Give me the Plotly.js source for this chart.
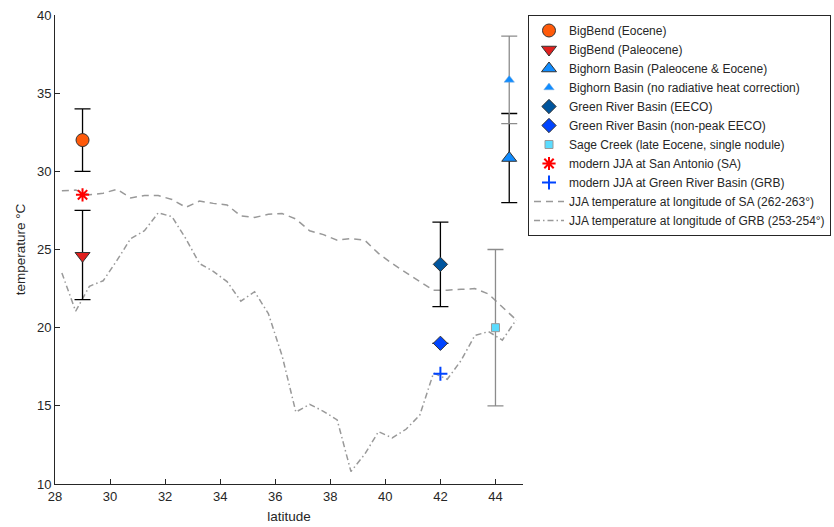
<!DOCTYPE html>
<html>
<head>
<meta charset="utf-8">
<script src="https://cdn.plot.ly/plotly-3.0.1.min.js"></script>
<style>html,body{margin:0;padding:0;background:#fff;}#chart{width:834px;height:527px;}</style>
</head>
<body>
<div id="chart"></div>
<script>
// Grid latitudes for the JJA temperature profiles
const latGrid = [28.25, 28.75, 29.25, 29.75, 30.25, 30.75, 31.25, 31.75, 32.25, 32.75,
  33.25, 33.75, 34.25, 34.75, 35.25, 35.75, 36.25, 36.75, 37.25, 37.75,
  38.25, 38.75, 39.25, 39.75, 40.25, 40.75, 41.25, 41.75, 42.25, 42.75,
  43.25, 43.75, 44.25, 44.75];
// JJA temperature at longitude of SA (262-263°)
const tempSA = [28.75, 28.8, 28.5, 28.6, 28.85, 28.3, 28.45, 28.45, 28.2, 27.7,
  28.1, 27.95, 27.85, 27.15, 27.05, 27.25, 27.3, 26.95, 26.2, 25.95,
  25.6, 25.7, 25.6, 24.75, 24.1, 23.5, 22.95, 22.4, 22.4, 22.45,
  22.5, 22.15, 21.35, 20.5];
// JJA temperature at longitude of GRB (253-254°)
const tempGRB = [23.5, 21.05, 22.65, 23.0, 24.3, 25.7, 26.2, 27.35, 27.1, 25.7,
  24.1, 23.6, 22.95, 21.7, 22.3, 20.9, 18.2, 14.6, 15.1, 14.65,
  14.1, 10.8, 11.9, 13.35, 12.95, 13.5, 14.4, 17.1, 16.7, 17.9,
  19.5, 19.75, 19.2, 20.5];

// Proxy points: latitude, temperature, error
const bbEoceneLat = [29], bbEoceneT = [32], bbEoceneErr = [2];
const bbPaleoLat = [29], bbPaleoT = [24.6], bbPaleoErrPlus = [2.9], bbPaleoErrMinus = [2.8];
const bhLat = [44.5], bhT = [30.85], bhErr = [2.85];
const bhNoCorrLat = [44.5], bhNoCorrT = [35.85], bhNoCorrErr = [2.8];
const grbEecoLat = [42], grbEecoT = [24.05], grbEecoErr = [2.7];
const grbNonPeakLat = [42], grbNonPeakT = [19], grbNonPeakErr = [0];
const sageLat = [44], sageT = [20], sageErr = [5];
const modernSALat = [29], modernSAT = [28.5];
const modernGRBLat = [42], modernGRBT = [17.05];

const lineGray = '#999999';
const edge = '#333333';
const txt = '#262626';

const data = [
  {x: latGrid, y: tempSA, mode: 'lines', name: 'JJA temperature at longitude of SA (262-263°)',
   line: {color: lineGray, width: 1.5, dash: '7px,5px'}, legendrank: 10},
  {x: latGrid, y: tempGRB, mode: 'lines', name: 'JJA temperature at longitude of GRB (253-254°)',
   line: {color: lineGray, width: 1.5, dash: '6px,3px,1.5px,3px'}, legendrank: 11},
  {x: bbEoceneLat, y: bbEoceneT, mode: 'markers', name: 'BigBend (Eocene)', legendrank: 1,
   marker: {symbol: 'circle', size: 13, color: '#FF5A0A', line: {color: edge, width: 1}},
   error_y: {type: 'data', array: bbEoceneErr, color: '#000', thickness: 1.3, width: 8}},
  {x: bbPaleoLat, y: bbPaleoT, mode: 'markers', name: 'BigBend (Paleocene)', legendrank: 2,
   marker: {symbol: 'triangle-down', size: 13, color: '#E0201E', line: {color: edge, width: 1}},
   error_y: {type: 'data', array: bbPaleoErrPlus, arrayminus: bbPaleoErrMinus, color: '#000', thickness: 1.3, width: 8}},
  {x: bhLat, y: bhT, mode: 'markers', name: 'Bighorn Basin (Paleocene & Eocene)', legendrank: 3,
   marker: {symbol: 'triangle-up', size: 13, color: '#108CFF', line: {color: edge, width: 1}},
   error_y: {type: 'data', array: bhErr, color: '#000', thickness: 1.3, width: 8}},
  {x: bhNoCorrLat, y: bhNoCorrT, mode: 'markers', name: 'Bighorn Basin (no radiative heat correction)', legendrank: 4,
   marker: {symbol: 'triangle-up', size: 9, color: '#108CFF', line: {color: '#7aa8d8', width: 0.5}},
   error_y: {type: 'data', array: bhNoCorrErr, color: '#8c8c8c', thickness: 1.3, width: 8}},
  {x: grbEecoLat, y: grbEecoT, mode: 'markers', name: 'Green River Basin (EECO)', legendrank: 5,
   marker: {symbol: 'diamond', size: 11, color: '#00559E', line: {color: edge, width: 1}},
   error_y: {type: 'data', array: grbEecoErr, color: '#000', thickness: 1.3, width: 8}},
  {x: grbNonPeakLat, y: grbNonPeakT, mode: 'markers', name: 'Green River Basin (non-peak EECO)', legendrank: 6,
   marker: {symbol: 'diamond', size: 11, color: '#0044FF', line: {color: edge, width: 1}},
   error_y: {type: 'data', array: grbNonPeakErr, color: '#000', thickness: 1.3, width: 8}},
  {x: sageLat, y: sageT, mode: 'markers', name: 'Sage Creek (late Eocene, single nodule)', legendrank: 7,
   marker: {symbol: 'square', size: 8, color: '#5ADCFF', line: {color: '#999', width: 1}},
   error_y: {type: 'data', array: sageErr, color: '#8c8c8c', thickness: 1.3, width: 8}},
  {x: modernSALat, y: modernSAT, mode: 'markers', name: 'modern JJA at San Antonio (SA)', legendrank: 8,
   marker: {symbol: 'asterisk-open', size: 11, color: '#FF0000', line: {color: '#FF0000', width: 2}}},
  {x: modernGRBLat, y: modernGRBT, mode: 'markers', name: 'modern JJA at Green River Basin (GRB)', legendrank: 9,
   marker: {symbol: 'cross-thin-open', size: 10, color: '#0044FF', line: {color: '#0044FF', width: 2}}}
];

const layout = {
  width: 834, height: 527,
  margin: {l: 55, r: 311, t: 15, b: 43, pad: 0, autoexpand: false},
  paper_bgcolor: '#fff', plot_bgcolor: '#fff',
  font: {family: 'Liberation Sans, Arial, Helvetica, sans-serif', size: 12, color: txt},
  showlegend: true,
  legend: {x: (528 - 55) / 468, y: 1, xanchor: 'left', yanchor: 'top', bgcolor: '#fff',
    bordercolor: '#262626', borderwidth: 1, font: {size: 12, color: txt}, itemwidth: 30},
  xaxis: {range: [28, 45], tickvals: [28, 30, 32, 34, 36, 38, 40, 42, 44],
    ticks: 'inside', ticklen: 5, tickcolor: txt, showline: true, linecolor: txt, linewidth: 1,
    showgrid: false, zeroline: false, tickfont: {size: 13, color: txt},
    title: {text: 'latitude', font: {size: 13.5, color: txt}, standoff: 8}},
  yaxis: {range: [10, 40], tickvals: [10, 15, 20, 25, 30, 35, 40],
    ticks: 'inside', ticklen: 5, tickcolor: txt, showline: true, linecolor: txt, linewidth: 1,
    showgrid: false, zeroline: false, tickfont: {size: 13, color: txt},
    title: {text: 'temperature °C', font: {size: 13.5, color: txt}, standoff: 8}}
};

Plotly.newPlot('chart', data, layout, {displayModeBar: false, staticPlot: true});
</script>
</body>
</html>
